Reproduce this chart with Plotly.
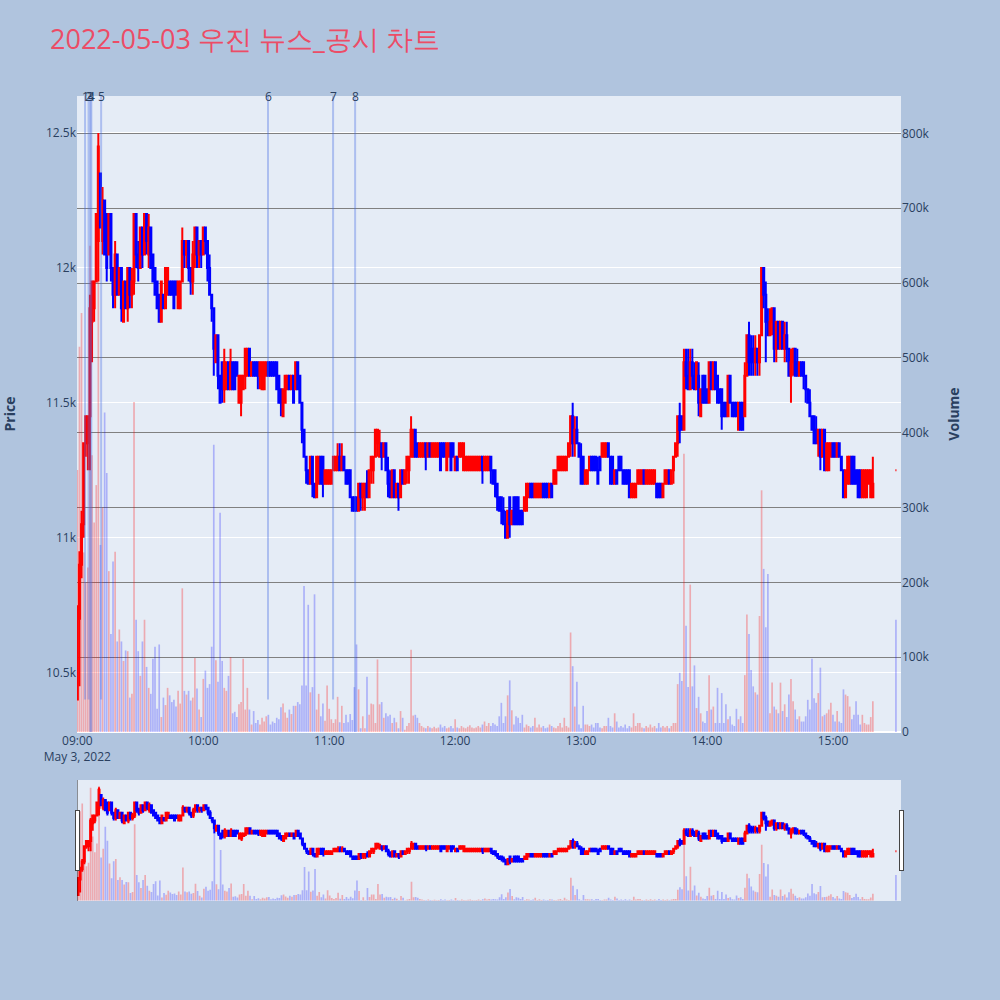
import pandas as pd
import plotly.graph_objects as go

# ── data: 1-minute candles, 2022-05-03 (09:00 – 15:19, then the 15:30 close) ──
chart_title = "2022-05-03 우진 뉴스_공시 차트"

opens = [
    10400, 10700, 10900, 11050, 11350, 11350, 11450, 11800, 11850, 11950,
    12100, 12350, 12100, 12250, 12200, 12050, 12200, 12000, 11900, 12050,
    11900, 12000, 11800, 11950, 11850, 12000, 11900, 11950, 12200, 12050,
    12000, 12150, 12050, 12200, 12050, 12150, 12050, 12000, 11950, 11900,
    11800, 11900, 11850, 11900, 11950, 11950, 11950, 11950, 11850, 11850,
    11950, 12100, 12050, 12100, 12000, 11950, 12050, 12150, 12050, 12100,
    12050, 12150, 12100, 12000, 11900, 11850, 11650, 11750, 11600, 11650,
    11550, 11550, 11650, 11550, 11650, 11650, 11650, 11500, 11500, 11550,
    11600, 11600, 11700, 11600, 11650, 11650, 11650, 11600, 11550, 11550,
    11600, 11650, 11650, 11650, 11650, 11650, 11600, 11550, 11450, 11500,
    11550, 11600, 11550, 11600, 11550, 11650, 11600, 11500, 11400, 11300,
    11250, 11200, 11300, 11200, 11150, 11200, 11300, 11300, 11200, 11200,
    11200, 11200, 11250, 11250, 11250, 11300, 11250, 11300, 11250, 11250,
    11250, 11150, 11150, 11150, 11100, 11200, 11150, 11150, 11200, 11150,
    11250, 11250, 11300, 11350, 11300, 11350, 11300, 11350, 11250, 11200,
    11150, 11250, 11150, 11200, 11150, 11250, 11200, 11250, 11250, 11300,
    11300, 11400, 11350, 11300, 11300, 11300, 11350, 11300, 11350, 11300,
    11300, 11300, 11300, 11350, 11350, 11350, 11250, 11300, 11350, 11350,
    11250, 11300, 11300, 11300, 11250, 11250, 11250, 11250, 11250, 11250,
    11250, 11250, 11250, 11300, 11250, 11250, 11250, 11300, 11250, 11250,
    11200, 11150, 11150, 11100, 11050, 11000, 11150, 11050, 11150, 11150,
    11150, 11100, 11100, 11100, 11100, 11150, 11200, 11200, 11150, 11150,
    11150, 11150, 11200, 11200, 11200, 11150, 11200, 11200, 11200, 11250,
    11250, 11250, 11250, 11250, 11300, 11350, 11450, 11350, 11400, 11350,
    11300, 11300, 11200, 11200, 11250, 11300, 11300, 11300, 11250, 11300,
    11300, 11300, 11300, 11350, 11300, 11300, 11200, 11250, 11300, 11300,
    11250, 11250, 11250, 11250, 11150, 11150, 11150, 11200, 11200, 11200,
    11250, 11200, 11200, 11200, 11200, 11200, 11200, 11200, 11200, 11150,
    11200, 11200, 11250, 11200, 11250, 11300, 11350, 11450, 11450, 11400,
    11650, 11600, 11550, 11650, 11600, 11550, 11600, 11450, 11600, 11600,
    11550, 11500, 11650, 11550, 11650, 11600, 11550, 11550, 11500, 11500,
    11450, 11600, 11500, 11500, 11500, 11400, 11500, 11500, 11450, 11600,
    11750, 11700, 11700, 11650, 11700, 11650, 11750, 12000, 11900, 11800,
    11750, 11800, 11850, 11700, 11800, 11700, 11800, 11700, 11750, 11700,
    11600, 11650, 11700, 11650, 11600, 11650, 11650, 11600, 11550, 11500,
    11450, 11450, 11400, 11350, 11400, 11300, 11400, 11250, 11250, 11300,
    11350, 11350, 11300, 11350, 11300, 11250, 11150, 11200, 11200, 11300,
    11300, 11250, 11250, 11250, 11150, 11150, 11150, 11200, 11150, 11150,
    11250,
]
highs = [
    10750, 10950, 11100, 11350, 11450, 11450, 11900, 11950, 11950, 12200,
    12500, 12350, 12300, 12250, 12200, 12200, 12200, 12000, 12100, 12050,
    12000, 12000, 11950, 11950, 12000, 12000, 12000, 12200, 12200, 12100,
    12150, 12150, 12200, 12200, 12200, 12150, 12050, 12000, 11950, 11900,
    11950, 11900, 12000, 12000, 11950, 11950, 11950, 11950, 11950, 11950,
    12150, 12100, 12100, 12100, 12000, 12100, 12150, 12150, 12100, 12100,
    12150, 12150, 12100, 12050, 11900, 11850, 11750, 11750, 11600, 11650,
    11700, 11650, 11650, 11700, 11650, 11650, 11650, 11600, 11600, 11600,
    11700, 11700, 11700, 11650, 11650, 11650, 11650, 11650, 11650, 11650,
    11650, 11650, 11650, 11650, 11650, 11650, 11600, 11550, 11550, 11600,
    11600, 11600, 11600, 11600, 11650, 11650, 11600, 11500, 11400, 11300,
    11250, 11300, 11300, 11200, 11300, 11300, 11300, 11300, 11250, 11250,
    11250, 11250, 11300, 11300, 11350, 11350, 11350, 11300, 11250, 11250,
    11250, 11150, 11150, 11150, 11200, 11200, 11200, 11200, 11250, 11250,
    11300, 11300, 11400, 11400, 11400, 11350, 11350, 11350, 11300, 11250,
    11250, 11250, 11200, 11200, 11250, 11250, 11250, 11300, 11300, 11450,
    11400, 11400, 11350, 11350, 11350, 11350, 11350, 11350, 11350, 11350,
    11350, 11350, 11350, 11350, 11350, 11350, 11350, 11350, 11350, 11350,
    11300, 11300, 11350, 11350, 11350, 11300, 11300, 11300, 11300, 11300,
    11300, 11300, 11300, 11300, 11300, 11300, 11300, 11300, 11250, 11250,
    11200, 11150, 11150, 11150, 11100, 11100, 11150, 11100, 11150, 11150,
    11150, 11100, 11100, 11150, 11200, 11200, 11200, 11200, 11200, 11200,
    11200, 11200, 11200, 11200, 11200, 11200, 11200, 11250, 11250, 11300,
    11300, 11300, 11300, 11300, 11350, 11450, 11500, 11450, 11450, 11350,
    11350, 11300, 11250, 11250, 11300, 11300, 11300, 11300, 11300, 11300,
    11350, 11350, 11350, 11350, 11300, 11300, 11250, 11250, 11300, 11300,
    11250, 11250, 11250, 11250, 11200, 11200, 11200, 11250, 11250, 11250,
    11250, 11250, 11250, 11250, 11250, 11250, 11200, 11200, 11200, 11200,
    11250, 11250, 11250, 11250, 11300, 11350, 11450, 11500, 11450, 11700,
    11700, 11700, 11700, 11700, 11650, 11650, 11650, 11550, 11600, 11600,
    11550, 11650, 11650, 11650, 11650, 11600, 11550, 11550, 11500, 11500,
    11600, 11600, 11500, 11500, 11500, 11500, 11500, 11500, 11650, 11750,
    11800, 11750, 11750, 11750, 11700, 11750, 12000, 12000, 11950, 11850,
    11850, 11850, 11850, 11800, 11800, 11800, 11800, 11800, 11800, 11700,
    11700, 11700, 11700, 11700, 11650, 11650, 11650, 11600, 11550, 11550,
    11450, 11450, 11450, 11400, 11400, 11400, 11400, 11350, 11350, 11350,
    11350, 11350, 11350, 11350, 11300, 11250, 11250, 11300, 11300, 11300,
    11300, 11250, 11250, 11250, 11250, 11250, 11250, 11250, 11250, 11300,
    11250,
]
lows = [
    10400, 10450, 10850, 11000, 11300, 11250, 11250, 11650, 11800, 11950,
    11950, 12150, 12050, 12050, 11950, 12050, 11950, 11850, 11850, 11900,
    11900, 11800, 11800, 11850, 11800, 11850, 11850, 11900, 12000, 11950,
    12000, 12000, 12050, 12050, 12000, 12000, 11950, 11900, 11850, 11800,
    11800, 11850, 11850, 11900, 11900, 11900, 11850, 11900, 11850, 11850,
    11950, 12000, 12000, 11950, 11900, 11900, 12000, 12000, 12000, 12000,
    12050, 12050, 11950, 11900, 11800, 11600, 11650, 11550, 11500, 11500,
    11500, 11550, 11550, 11550, 11550, 11550, 11600, 11500, 11450, 11550,
    11550, 11600, 11600, 11600, 11600, 11600, 11550, 11550, 11550, 11550,
    11600, 11600, 11600, 11600, 11600, 11550, 11500, 11450, 11450, 11500,
    11550, 11550, 11550, 11500, 11550, 11550, 11500, 11350, 11300, 11200,
    11200, 11200, 11150, 11150, 11150, 11200, 11200, 11150, 11200, 11200,
    11200, 11200, 11250, 11250, 11250, 11250, 11250, 11250, 11200, 11200,
    11150, 11100, 11100, 11100, 11100, 11100, 11100, 11100, 11150, 11150,
    11200, 11200, 11300, 11300, 11300, 11250, 11300, 11250, 11150, 11150,
    11150, 11150, 11150, 11100, 11150, 11200, 11200, 11200, 11200, 11300,
    11300, 11300, 11300, 11300, 11300, 11300, 11250, 11300, 11300, 11300,
    11300, 11300, 11300, 11250, 11300, 11300, 11250, 11300, 11250, 11300,
    11250, 11250, 11300, 11300, 11250, 11250, 11250, 11250, 11250, 11250,
    11250, 11250, 11250, 11200, 11250, 11250, 11250, 11200, 11200, 11150,
    11100, 11100, 11050, 11050, 11000, 11000, 11000, 11050, 11050, 11050,
    11050, 11050, 11050, 11100, 11100, 11150, 11150, 11150, 11150, 11150,
    11150, 11150, 11150, 11150, 11150, 11150, 11150, 11200, 11200, 11250,
    11250, 11250, 11250, 11250, 11300, 11300, 11300, 11300, 11350, 11300,
    11200, 11200, 11200, 11200, 11250, 11250, 11250, 11250, 11200, 11250,
    11300, 11300, 11300, 11300, 11200, 11200, 11200, 11200, 11250, 11250,
    11200, 11200, 11200, 11150, 11150, 11150, 11150, 11200, 11200, 11200,
    11200, 11200, 11200, 11200, 11200, 11200, 11150, 11150, 11150, 11150,
    11200, 11200, 11200, 11200, 11200, 11300, 11300, 11350, 11400, 11400,
    11550, 11550, 11550, 11550, 11550, 11550, 11450, 11450, 11500, 11500,
    11500, 11500, 11550, 11550, 11550, 11500, 11500, 11400, 11450, 11450,
    11450, 11500, 11450, 11450, 11450, 11400, 11400, 11400, 11450, 11600,
    11600, 11600, 11600, 11600, 11600, 11600, 11750, 11850, 11650, 11750,
    11750, 11750, 11650, 11650, 11700, 11700, 11700, 11650, 11650, 11600,
    11500, 11600, 11600, 11600, 11600, 11600, 11550, 11500, 11500, 11450,
    11400, 11350, 11350, 11300, 11250, 11300, 11250, 11250, 11250, 11300,
    11300, 11300, 11300, 11300, 11250, 11150, 11150, 11200, 11200, 11200,
    11200, 11200, 11150, 11150, 11150, 11150, 11150, 11200, 11150, 11150,
    11250,
]
closes = [
    10700, 10900, 11050, 11350, 11450, 11450, 11850, 11950, 11950, 12200,
    12450, 12150, 12250, 12050, 12000, 12200, 12000, 11900, 12050, 11900,
    12000, 11850, 11950, 11850, 12000, 11900, 11950, 12200, 12050, 12000,
    12150, 12050, 12200, 12100, 12150, 12000, 11950, 11900, 11850, 11800,
    11950, 11850, 12000, 12000, 11900, 11900, 11850, 11900, 11950, 11950,
    12100, 12050, 12100, 12000, 11950, 12050, 12150, 12050, 12100, 12050,
    12150, 12100, 12000, 11900, 11850, 11700, 11750, 11600, 11500, 11550,
    11650, 11650, 11550, 11650, 11550, 11550, 11600, 11600, 11600, 11600,
    11700, 11700, 11600, 11650, 11600, 11600, 11600, 11650, 11650, 11650,
    11650, 11600, 11600, 11600, 11600, 11550, 11500, 11500, 11550, 11600,
    11600, 11550, 11600, 11500, 11650, 11550, 11500, 11400, 11300, 11250,
    11200, 11300, 11200, 11150, 11300, 11300, 11200, 11200, 11250, 11250,
    11250, 11250, 11300, 11300, 11300, 11250, 11300, 11250, 11200, 11200,
    11150, 11100, 11100, 11100, 11200, 11150, 11200, 11200, 11150, 11250,
    11300, 11300, 11400, 11400, 11350, 11300, 11350, 11250, 11200, 11150,
    11250, 11150, 11200, 11150, 11250, 11200, 11250, 11300, 11300, 11400,
    11400, 11300, 11300, 11350, 11350, 11350, 11300, 11350, 11300, 11350,
    11350, 11350, 11350, 11250, 11300, 11300, 11350, 11350, 11250, 11300,
    11300, 11250, 11350, 11350, 11350, 11300, 11300, 11300, 11300, 11300,
    11300, 11300, 11300, 11250, 11300, 11300, 11300, 11250, 11200, 11200,
    11150, 11100, 11100, 11050, 11000, 11100, 11050, 11100, 11050, 11050,
    11050, 11050, 11050, 11150, 11200, 11200, 11150, 11150, 11200, 11200,
    11200, 11200, 11150, 11150, 11150, 11200, 11150, 11250, 11250, 11300,
    11300, 11300, 11300, 11300, 11350, 11450, 11350, 11400, 11350, 11300,
    11200, 11200, 11250, 11250, 11300, 11250, 11250, 11250, 11200, 11250,
    11350, 11350, 11350, 11300, 11200, 11200, 11250, 11200, 11250, 11250,
    11200, 11200, 11200, 11150, 11200, 11200, 11200, 11250, 11250, 11250,
    11200, 11250, 11250, 11250, 11250, 11250, 11150, 11150, 11150, 11200,
    11250, 11250, 11200, 11250, 11300, 11350, 11450, 11400, 11400, 11650,
    11600, 11550, 11650, 11600, 11550, 11650, 11500, 11550, 11500, 11500,
    11500, 11650, 11550, 11650, 11550, 11500, 11500, 11450, 11450, 11450,
    11600, 11500, 11450, 11450, 11450, 11500, 11400, 11400, 11600, 11750,
    11650, 11650, 11650, 11700, 11650, 11750, 12000, 11900, 11800, 11750,
    11800, 11850, 11700, 11800, 11700, 11800, 11700, 11750, 11700, 11600,
    11650, 11700, 11600, 11600, 11650, 11600, 11600, 11550, 11500, 11450,
    11400, 11350, 11350, 11400, 11300, 11400, 11250, 11350, 11350, 11350,
    11300, 11300, 11350, 11300, 11250, 11150, 11250, 11300, 11300, 11200,
    11200, 11200, 11150, 11150, 11250, 11250, 11250, 11250, 11250, 11200,
    11250,
]
# volume in thousands of shares
volume_k = [
    350, 515, 560, 240, 200, 220, 650, 370, 280, 330,
    660, 250, 300, 427, 346, 215, 131, 228, 241, 121,
    137, 121, 95, 109, 108, 46, 51, 441, 150, 108,
    75, 121, 150, 87, 59, 51, 98, 114, 31, 117,
    20, 46, 36, 59, 49, 40, 43, 34, 55, 38,
    192, 55, 50, 55, 42, 46, 99, 58, 30, 20,
    71, 82, 59, 64, 114, 384, 96, 67, 293, 95,
    59, 55, 75, 100, 25, 27, 20, 37, 40, 98,
    30, 59, 30, 10, 28, 12, 16, 10, 19, 14,
    21, 23, 10, 14, 12, 19, 17, 33, 38, 26,
    19, 30, 24, 35, 35, 40, 37, 62, 195, 62,
    170, 53, 60, 184, 30, 51, 21, 38, 15, 62,
    31, 17, 12, 17, 47, 13, 35, 12, 23, 13,
    24, 16, 60, 117, 57, 5, 21, 5, 74, 23,
    38, 37, 12, 97, 37, 40, 19, 25, 21, 23,
    12, 19, 13, 5, 28, 19, 3, 8, 12, 110,
    22, 23, 19, 12, 8, 6, 5, 8, 6, 5,
    7, 5, 6, 10, 6, 8, 5, 6, 8, 5,
    17, 6, 5, 8, 6, 5, 7, 9, 6, 5,
    6, 8, 6, 10, 14, 8, 12, 8, 12, 10,
    8, 21, 39, 12, 21, 49, 69, 29, 10, 21,
    19, 12, 23, 6, 10, 8, 6, 8, 19, 6,
    10, 6, 8, 5, 6, 10, 8, 6, 5, 8,
    12, 6, 19, 8, 6, 133, 88, 34, 67, 10,
    5, 35, 10, 10, 8, 10, 6, 12, 12, 6,
    5, 8, 8, 19, 8, 6, 25, 14, 6, 8,
    6, 10, 5, 8, 6, 25, 8, 12, 12, 6,
    5, 8, 6, 10, 6, 8, 5, 12, 6, 8,
    6, 8, 5, 8, 12, 12, 64, 79, 68, 372,
    142, 60, 197, 61, 89, 32, 47, 25, 14, 12,
    28, 76, 30, 34, 12, 59, 12, 52, 12, 37,
    17, 21, 10, 8, 31, 17, 21, 12, 76, 157,
    131, 83, 61, 53, 50, 155, 323, 218, 140, 211,
    25, 66, 34, 30, 25, 66, 28, 37, 20, 50,
    71, 41, 30, 17, 21, 14, 14, 21, 43, 30,
    98, 45, 39, 52, 86, 21, 23, 25, 30, 39,
    23, 14, 28, 14, 12, 57, 50, 48, 34, 17,
    23, 41, 23, 10, 23, 12, 10, 10, 20, 41,
    150,
]

# news / disclosure markers
news_times = [
    "2022-05-03 09:03:40", "2022-05-03 09:05:20", "2022-05-03 09:06:10",
    "2022-05-03 09:06:40", "2022-05-03 09:11:20", "2022-05-03 10:30:50",
    "2022-05-03 11:01:50", "2022-05-03 11:12:20",
]
news_labels = ["1", "2", "3", "4", "5", "6", "7", "8"]
news_kind = ["뉴스", "뉴스", "공시", "공시", "뉴스", "뉴스", "뉴스", "공시"]

# ── build ─────────────────────────────────────────────────────────────────────
times = list(pd.date_range("2022-05-03 09:00", periods=380, freq="min"))
times.append(pd.Timestamp("2022-05-03 15:30"))

volumes = [v * 1000 for v in volume_k]
vol_colors = [
    "rgba(255,0,0,0.28)" if c > o else "rgba(0,0,255,0.25)"
    for o, c in zip(opens, closes)
]

price_range = [10280, 12637]

fig = go.Figure()
fig.add_trace(go.Candlestick(
    x=times, open=opens, high=highs, low=lows, close=closes,
    increasing=dict(line=dict(color="red"), fillcolor="red"),
    decreasing=dict(line=dict(color="blue"), fillcolor="blue"),
    name="Price", yaxis="y",
))
fig.add_trace(go.Bar(
    x=times, y=volumes, marker=dict(color=vol_colors, line=dict(width=0)),
    name="Volume", yaxis="y2",
))

# vertical news lines (shapes, so they stay out of the range slider)
line_style = dict(color="rgba(65,105,225,0.35)", width=2)
for t, label, kind in zip(news_times, news_labels, news_kind):
    if kind == "공시":
        fig.add_shape(type="line", xref="x", yref="paper", x0=t, x1=t, y0=0, y1=1,
                      line=line_style)
    else:
        fig.add_shape(type="line", xref="x", yref="y", x0=t, x1=t,
                      y0=min(lows), y1=price_range[1], line=line_style)
    fig.add_annotation(x=t, xref="x", y=1, yref="paper", text=label,
                       showarrow=False, yanchor="middle",
                       font=dict(size=12, color="#2a3f5f"))

fig.update_layout(
    width=1000, height=1000, autosize=False,
    title=dict(text=chart_title, x=0.05, xanchor="left", y=0.96, yanchor="middle",
               font=dict(size=27, color="rgb(236,76,102)")),
    paper_bgcolor="lightsteelblue",
    plot_bgcolor="#E5ECF6",
    showlegend=False,
    margin=dict(l=77, r=99, t=96, b=100),
    xaxis=dict(
        range=["2022-05-03 08:59:50", "2022-05-03 15:32:25"],
        dtick=3600000,
        rangeslider=dict(visible=True, thickness=0.15, yaxis=dict(rangemode="auto")),
    ),
    yaxis=dict(title=dict(text="<b>Price</b>", standoff=28), range=price_range,
               dtick=500, automargin=False),
    yaxis2=dict(title=dict(text="<b>Volume</b>", standoff=20), overlaying="y",
                side="right", range=[0, 850000], dtick=100000, showgrid=True,
                gridcolor="grey", automargin=False),
)

# page flush to the window; volume axis in the range slider autoranges too
page_fix = ("document.body.style.margin = '0';"
            "Plotly.relayout('{plot_id}', "
            "{'xaxis.rangeslider.yaxis2.rangemode': 'auto'});")
fig.write_html("out.html", post_script=page_fix, config={"displayModeBar": False})
